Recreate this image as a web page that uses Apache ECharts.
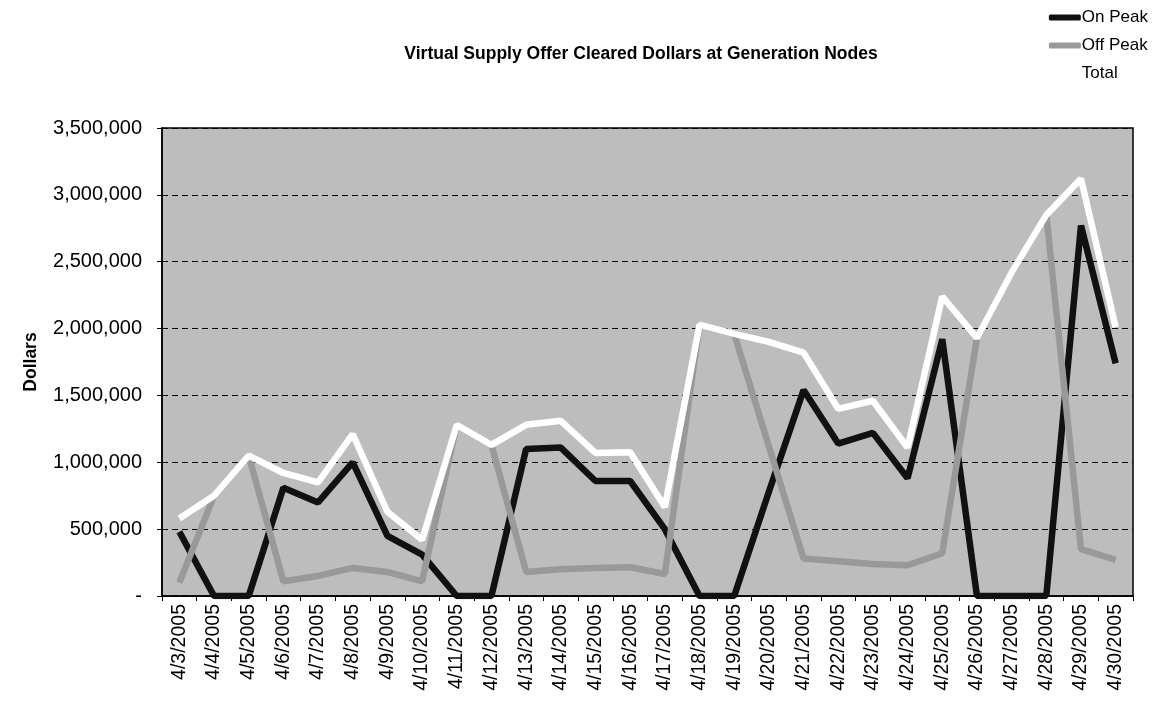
<!DOCTYPE html>
<html>
<head>
<meta charset="utf-8">
<script src="https://cdn.jsdelivr.net/npm/echarts@6/dist/echarts.min.js"></script>
<style>
  html, body { margin: 0; padding: 0; background: #fff; }
  #chart { width: 1165px; height: 701px; }
</style>
</head>
<body>
<div id="chart"></div>
<script>
const days = [
  "4/3/2005", "4/4/2005", "4/5/2005", "4/6/2005", "4/7/2005", "4/8/2005", "4/9/2005",
  "4/10/2005", "4/11/2005", "4/12/2005", "4/13/2005", "4/14/2005", "4/15/2005", "4/16/2005",
  "4/17/2005", "4/18/2005", "4/19/2005", "4/20/2005", "4/21/2005", "4/22/2005", "4/23/2005",
  "4/24/2005", "4/25/2005", "4/26/2005", "4/27/2005", "4/28/2005", "4/29/2005", "4/30/2005"
];

const onPeak = [
  480000, 0, 0, 810000, 700000, 1000000, 450000,
  310000, 0, 0, 1100000, 1110000, 860000, 860000,
  500000, 0, 0, 780000, 1540000, 1140000, 1220000,
  880000, 1920000, 0, 0, 0, 2770000, 1740000
];

const offPeak = [
  100000, 750000, 1050000, 110000, 150000, 210000, 180000,
  110000, 1280000, 1130000, 180000, 200000, 210000, 215000,
  165000, 2030000, 1960000, 1120000, 280000, 260000, 240000,
  230000, 320000, 1930000, 2420000, 2850000, 350000, 270000
];

const total = [
  580000, 750000, 1050000, 920000, 850000, 1210000, 630000,
  420000, 1280000, 1130000, 1280000, 1310000, 1070000, 1075000,
  665000, 2030000, 1960000, 1900000, 1820000, 1400000, 1460000,
  1110000, 2240000, 1930000, 2420000, 2850000, 3120000, 2010000
];

const chart = echarts.init(document.getElementById("chart"));

const fontFam = "'Liberation Sans', Arial, sans-serif";

const option = {
  animation: false,
  textStyle: { fontFamily: fontFam, color: "#000" },
  title: {
    text: "Virtual Supply Offer Cleared Dollars at Generation Nodes",
    left: 636,
    top: 40,
    textAlign: "center",
    textStyle: { fontSize: 17.5, fontWeight: "bold", color: "#000", fontFamily: fontFam }
  },
  legend: {
    orient: "vertical",
    right: 12,
    top: 4,
    itemGap: 11,
    itemWidth: 32,
    itemHeight: 6,
    icon: "roundRect",
    textStyle: { fontSize: 17, color: "#000", fontFamily: fontFam, padding: [0, 0, 0, -4] },
    data: ["On Peak", "Off Peak", "Total"]
  },
  grid: {
    left: 162,
    right: 32,
    top: 128,
    bottom: 105,
    show: true,
    backgroundColor: "#bdbdbd",
    borderColor: "#000",
    borderWidth: 1.5
  },
  xAxis: {
    type: "category",
    data: days,
    boundaryGap: true,
    axisLine: { lineStyle: { color: "#000", width: 1.5 } },
    axisTick: { show: true, length: 5, lineStyle: { color: "#000" } },
    axisLabel: {
      rotate: 90,
      interval: 0,
      margin: 8,
      fontSize: 19.5,
      color: "#000",
      fontFamily: fontFam
    }
  },
  yAxis: {
    type: "value",
    min: 0,
    max: 3500000,
    interval: 500000,
    name: "Dollars",
    nameLocation: "middle",
    nameGap: 122,
    nameTextStyle: { fontSize: 17.5, fontWeight: "bold", color: "#000", fontFamily: fontFam },
    axisLine: { show: true, lineStyle: { color: "#000", width: 1.5 } },
    axisTick: { show: true, length: 5, lineStyle: { color: "#000" } },
    axisLabel: {
      margin: 20,
      fontSize: 20,
      color: "#000",
      fontFamily: fontFam,
      formatter: (v) => (v === 0 ? "-" : v.toLocaleString("en-US"))
    },
    splitLine: {
      show: true,
      lineStyle: { color: "#000", width: 1, type: [6, 4] }
    }
  },
  series: [
    {
      name: "On Peak",
      type: "line",
      data: onPeak,
      symbol: "none",
      lineStyle: { color: "#111", width: 6.5 },
      itemStyle: { color: "#111" }
    },
    {
      name: "Off Peak",
      type: "line",
      data: offPeak,
      symbol: "none",
      lineStyle: { color: "#999", width: 6.5 },
      itemStyle: { color: "#999" }
    },
    {
      name: "Total",
      type: "line",
      data: total,
      symbol: "none",
      lineStyle: { color: "#fff", width: 6.5 },
      itemStyle: { color: "#fff" }
    }
  ]
};

chart.setOption(option);
</script>
</body>
</html>
